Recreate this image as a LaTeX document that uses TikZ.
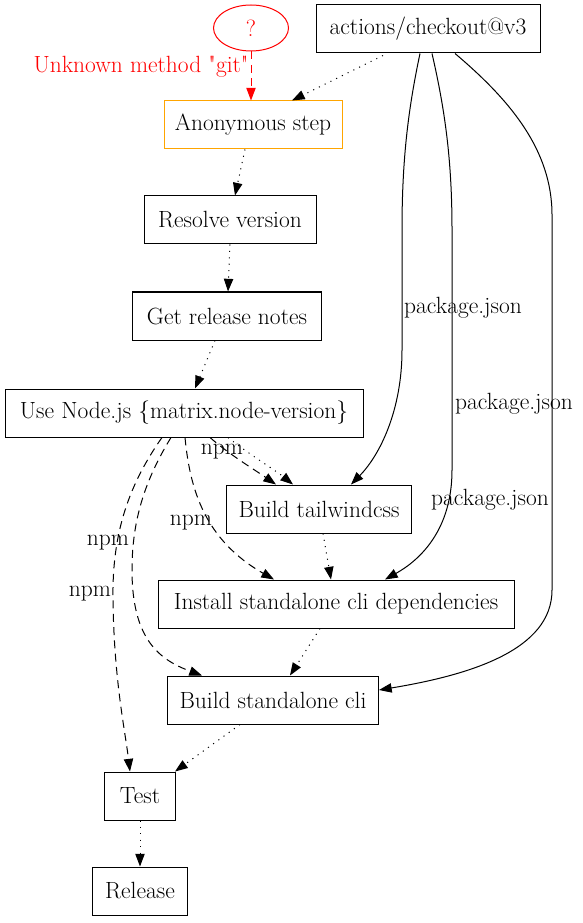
\documentclass[tikz,border=0pt]{standalone}
\usepackage{fontspec}
\usetikzlibrary{arrows.meta,calc,shapes.geometric}
\definecolor{gvorange}{HTML}{FFA500}
\tikzset{
  x=0.75pt, y=-0.75pt,
  gvfont/.style={font=\fontsize{17.6}{20}\selectfont},
  box/.style={draw, rectangle, minimum height=36pt, inner sep=0pt, line width=0.75pt, gvfont},
  lbl/.style={inner sep=0pt, gvfont},
  arr/.style={-{Triangle[length=9.5pt,width=7pt]}, line width=0.75pt},
  dotline/.style={arr, dash pattern=on 0.8pt off 4pt},
  dashline/.style={arr, dash pattern=on 6pt off 4pt},
}
\begin{document}
\begin{tikzpicture}
\useasboundingbox (0,0) rectangle (582,923);
% nodes
\node[draw=red, text=red, ellipse, minimum width=56.25pt, minimum height=34.5pt, inner sep=0pt, line width=0.75pt, gvfont] (q) at (251,28) {?};
\node[box, minimum width=168pt] (ck) at (428,29) {actions/checkout@v3};
\node[box, draw=gvorange, minimum width=133.5pt] (an) at (253,125) {Anonymous step};
\node[box, minimum width=129pt] (rv) at (230,220) {Resolve version};
\node[box, minimum width=141.75pt] (gr) at (227,316) {Get release notes};
\node[box, minimum width=268.5pt] (un) at (184,413) {Use Node.js \{matrix.node-version\}};
\node[box, minimum width=138.75pt] (tw) at (319,509) {Build tailwindcss};
\node[box, minimum width=267pt] (is) at (336,604) {Install standalone cli dependencies};
\node[box, minimum width=158.25pt] (bs) at (273,700) {Build standalone cli};
\node[box, minimum width=53.25pt] (te) at (140,796) {Test};
\node[box, minimum width=71.25pt] (re) at (140,891) {Release};
% labels
\node[lbl, text=red] (lq) at (141,67) {Unknown method \textquotedbl git\textquotedbl};
\node[lbl] (l1) at (222,452) {npm};
\node[lbl] (l2) at (191,523) {npm};
\node[lbl] (l3) at (108,543) {npm};
\node[lbl] (l4) at (90,594) {npm};
\node[lbl] (p1) at (463,308) {package.json};
\node[lbl] (p2) at (514,404) {package.json};
\node[lbl] (p3) at (490,500) {package.json};
% edges
\draw[arr, red, dash pattern=on 6pt off 4pt] (q.south) -- (q.south |- an.north);
\draw[dotline] ($(ck.south)+(-45,2)$) -- ($(an.north)+(39,0)$);
\draw[dotline] ($(an.south)+(-8,0)$) -- ($(rv.north)+(5,0)$);
\draw[dotline] (rv.south) -- ($(gr.north)+(1,0)$);
\draw[dotline] ($(gr.south)+(-12,0)$) -- ($(un.north)+(11,0)$);
\draw[dotline] ($(un.south)+(44,0)$) .. controls (250,455) and (275,470) .. ($(tw.north)+(-26,0)$);
\draw[dashline] ($(un.south)+(26,0)$) .. controls (230,455) and (255,470) .. ($(tw.north)+(-43,0)$);
\draw[dashline] ($(un.south)+(1,0)$) .. controls (190,490) and (205,540) .. ($(is.north)+(-62,0)$);
\draw[dashline] ($(un.south)+(-13,0)$) .. controls (145,480) and (132,520) .. (132,570) .. controls (132,640) and (160,660) .. ($(bs.north)+(-71,0)$);
\draw[dashline] ($(un.south)+(-22,0)$) .. controls (125,490) and (112,540) .. (113,600) .. controls (114,680) and (125,730) .. ($(te.north)+(-10,0)$);
\draw[dotline] ($(tw.south)+(4,0)$) -- ($(is.north)+(-5,0)$);
\draw[dotline] ($(is.south)+(-16,0)$) -- ($(bs.north)+(17,0)$);
\draw[dotline] ($(bs.south)+(-33,0)$) -- ($(te.north)+(35,0)$);
\draw[dotline] (te.south) -- (re.north);
\draw[arr] ($(ck.south)+(-8,0)$) .. controls (408,110) and (402,160) .. (402,230) -- (402,350) .. controls (402,410) and (380,455) .. ($(tw.north)+(32,0)$);
\draw[arr] ($(ck.south)+(4,0)$) .. controls (445,110) and (452,160) .. (452,230) -- (452,470) .. controls (452,530) and (420,560) .. ($(is.north)+(49,0)$);
\draw[arr] ($(ck.south)+(27,0)$) .. controls (510,100) and (552,150) .. (552,215) -- (552,590) .. controls (552,650) and (470,675) .. ($(bs.east)+(0,-10)$);
\end{tikzpicture}
\end{document}
